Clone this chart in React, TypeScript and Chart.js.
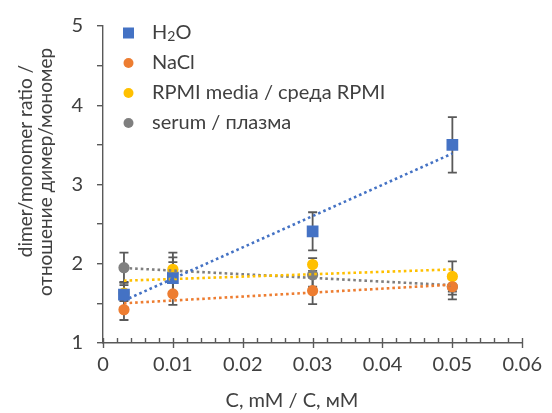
import { useEffect, useRef } from "react";
import { Chart, registerables } from "chart.js";

Chart.register(...registerables);

const concentrations = [0.003, 0.01, 0.03, 0.05];
const seriesNames = ["H2O", "NaCl", "RPMI media / среда RPMI", "serum / плазма"];
const h2oValues = [1.61, 1.82, 2.41, 3.5];
const h2oErrors = [0.16, 0.2, 0.24, 0.35];
const naclValues = [1.42, 1.62, 1.66, 1.71];
const naclErrors = [0.13, 0.14, 0.17, 0.1];
const rpmiValues = [1.63, 1.93, 1.99, 1.84];
const rpmiErrors = [0.1, 0.15, 0.08, 0.19];
const serumValues = [1.95, 1.89, 1.86, 1.71];
const serumErrors = [0.19, 0.25, 0.15, 0.16];
const seriesColors = ["#4472C4", "#ED7D31", "#FFC000", "#7F7F7F"];
const seriesStyles = ["rect", "circle", "circle", "circle"];
const xTitle = "C, mM / C, мМ";
const yTitleLines = ["dimer/monomer ratio /", "отношение димер/мономер"];

const allValues = [h2oValues, naclValues, rpmiValues, serumValues];
const allErrors = [h2oErrors, naclErrors, rpmiErrors, serumErrors];

const FONT = "Lato, 'Open Sans', sans-serif";
const TEXT = "#404040";
const AXIS = "#595959";

function linearFit(xs: number[], ys: number[]) {
  const n = xs.length;
  const mx = xs.reduce((a, b) => a + b, 0) / n;
  const my = ys.reduce((a, b) => a + b, 0) / n;
  let sxx = 0, sxy = 0;
  for (let i = 0; i < n; i++) {
    sxx += (xs[i] - mx) ** 2;
    sxy += (xs[i] - mx) * (ys[i] - my);
  }
  const slope = sxy / sxx;
  const b = my - slope * mx;
  const x0 = Math.min(...xs);
  const x1 = Math.max(...xs);
  return [
    { x: x0, y: b + slope * x0 },
    { x: x1, y: b + slope * x1 },
  ];
}

const errorBarPlugin = {
  id: "errorBars",
  beforeDatasetsDraw(chart: any) {
    const { ctx, scales } = chart;
    const xs = scales.x, ys = scales.y;
    ctx.save();
    ctx.strokeStyle = "#595959";
    ctx.lineWidth = 1.8;
    chart.data.datasets.forEach((ds: any) => {
      if (!ds.errors) return;
      ds.data.forEach((p: any, i: number) => {
        const e = ds.errors[i];
        const px = xs.getPixelForValue(p.x);
        const top = ys.getPixelForValue(p.y + e);
        const bot = ys.getPixelForValue(p.y - e);
        ctx.beginPath();
        ctx.moveTo(px, top);
        ctx.lineTo(px, bot);
        ctx.moveTo(px - 4.5, top);
        ctx.lineTo(px + 4.5, top);
        ctx.moveTo(px - 4.5, bot);
        ctx.lineTo(px + 4.5, bot);
        ctx.stroke();
      });
    });
    ctx.restore();
  },
};

const decorPlugin = {
  id: "decor",
  afterDraw(chart: any) {
    const { ctx, scales, chartArea } = chart;
    const xs = scales.x;
    ctx.save();
    // x-axis tick marks
    ctx.strokeStyle = AXIS;
    ctx.lineWidth = 1.4;
    const yAxis = chartArea.bottom;
    xs.ticks.forEach((t: any) => {
      const px = Math.round(xs.getPixelForValue(t.value)) + 0.5;
      const major = Math.abs(Math.round(t.value * 100) - t.value * 100) < 1e-6;
      ctx.beginPath();
      ctx.moveTo(px, yAxis - 5);
      ctx.lineTo(px, major ? yAxis + 5 : yAxis);
      ctx.stroke();
    });
    // x title
    ctx.fillStyle = TEXT;
    ctx.font = `20px ${FONT}`;
    ctx.textAlign = "center";
    ctx.textBaseline = "alphabetic";
    ctx.fillText(xTitle, 292, 407);
    // y title
    ctx.font = `19px ${FONT}`;
    ctx.save();
    ctx.translate(26, 161);
    ctx.rotate(-Math.PI / 2);
    ctx.textBaseline = "middle";
    ctx.fillText(yTitleLines[0], 0, 0);
    ctx.restore();
    ctx.save();
    ctx.translate(46, 172);
    ctx.rotate(-Math.PI / 2);
    ctx.textBaseline = "middle";
    ctx.fillText(yTitleLines[1], 0, 0);
    ctx.restore();
    // legend
    ctx.textAlign = "left";
    ctx.textBaseline = "middle";
    seriesNames.forEach((name, i) => {
      const cy = 33 + i * 30;
      ctx.fillStyle = seriesColors[i];
      if (seriesStyles[i] === "rect") {
        ctx.fillRect(123, cy - 5.5, 11, 11);
      } else {
        ctx.beginPath();
        ctx.arc(128.5, cy, 5, 0, Math.PI * 2);
        ctx.fill();
      }
      ctx.fillStyle = TEXT;
      ctx.font = `20px ${FONT}`;
      if (name === "H2O") {
        let x = 152;
        ctx.fillText("H", x, cy);
        x += ctx.measureText("H").width;
        ctx.font = `14px ${FONT}`;
        ctx.fillText("2", x, cy + 3);
        x += ctx.measureText("2").width;
        ctx.font = `20px ${FONT}`;
        ctx.fillText("O", x, cy);
      } else {
        ctx.fillText(name, 152, cy);
      }
    });
    ctx.restore();
  },
};

export default function App() {
  const ref = useRef<HTMLCanvasElement | null>(null);
  useEffect(() => {
    document.body.style.margin = "0";
    const canvas = ref.current!;
    const trendSets = allValues.map((vals, i) => ({
      label: seriesNames[i] + " trend",
      data: linearFit(concentrations, vals),
      showLine: true,
      pointRadius: 0,
      borderColor: seriesColors[i],
      borderWidth: 2.6,
      borderDash: [2.6, 3],
      fill: false,
    }));
    const pointSets = allValues.map((vals, i) => ({
      label: seriesNames[i],
      data: concentrations.map((x, j) => ({ x, y: vals[j] })),
      errors: allErrors[i],
      showLine: false,
      pointStyle: seriesStyles[i],
      pointRadius: seriesStyles[i] === "rect" ? 8.3 : 5.6,
      backgroundColor: seriesColors[i],
      borderColor: seriesColors[i],
      borderWidth: 0,
    }));
    const chart = new Chart(canvas, {
      type: "scatter",
      data: { datasets: [...trendSets, ...pointSets] as any },
      plugins: [errorBarPlugin, decorPlugin],
      options: {
        animation: false,
        responsive: false,
        layout: { padding: { left: 0, right: 23, top: 21, bottom: 0 } },
        plugins: { legend: { display: false }, tooltip: { enabled: false } },
        scales: {
          x: {
            type: "linear",
            min: 0,
            max: 0.06,
            afterFit: (s: any) => { s.height = 70; },
            grid: { display: false, drawTicks: false },
            border: { display: true, color: AXIS, width: 1.4 },
            ticks: {
              stepSize: 0.002,
              autoSkip: false,
              maxRotation: 0,
              padding: 10,
              color: TEXT,
              font: { family: FONT, size: 20 },
              callback: (v: any) => {
                const n = Number(v);
                if (Math.abs(Math.round(n * 100) - n * 100) > 1e-6) return "";
                return n === 0 ? "0" : n.toFixed(2);
              },
            },
          },
          y: {
            type: "linear",
            min: 1,
            max: 5,
            afterFit: (s: any) => { s.width = 103; },
            grid: { drawOnChartArea: false, drawTicks: true, tickLength: 6, color: AXIS, lineWidth: 1.4 },
            border: { display: true, color: AXIS, width: 1.4 },
            ticks: {
              stepSize: 0.5,
              padding: 14,
              color: TEXT,
              font: { family: FONT, size: 20 },
              callback: (v: any) => {
                const n = Number(v);
                return Number.isInteger(n) ? String(n) : "";
              },
            },
          },
        },
      } as any,
    });
    return () => chart.destroy();
  }, []);
  return (
    <div style={{ width: 552, height: 413 }}>
      <canvas ref={ref} width={552} height={413} style={{ display: "block" }} />
    </div>
  );
}
